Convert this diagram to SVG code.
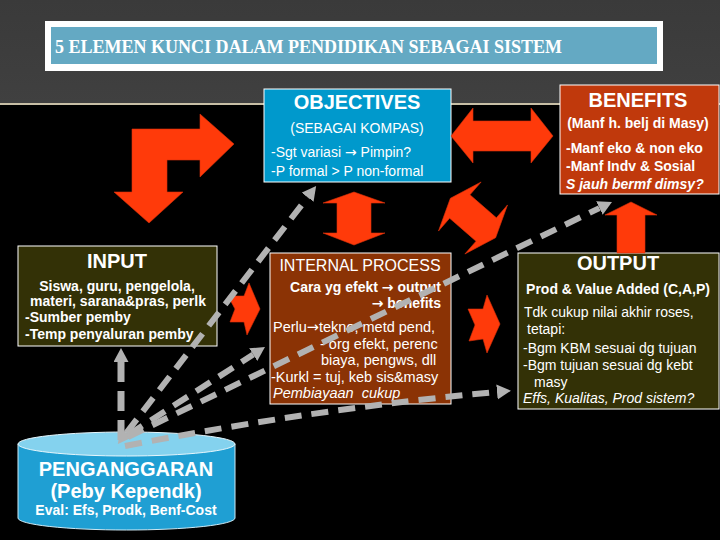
<svg xmlns="http://www.w3.org/2000/svg" width="720" height="540" viewBox="0 0 720 540">
  <style>
    text { font-family: "Liberation Sans", Arial, sans-serif; fill: #ffffff; }
    .title { font-family: "Liberation Serif", "Times New Roman", serif; font-weight: bold; font-size: 18px; }
    .hd { font-weight: bold; font-size: 20px; text-anchor: middle; }
    .hr { font-size: 16px; text-anchor: middle; }
    .b14 { font-weight: bold; font-size: 14px; }
    .r14 { font-size: 14px; }
    .r145 { font-size: 14.5px; }
    .mid { text-anchor: middle; }
    .end { text-anchor: end; }
    .it { font-style: italic; }
    .ar { font-family: "DejaVu Sans", sans-serif; }
    .box { stroke: #ffffff; stroke-width: 1; }
    .red { fill: #ff3a0a; stroke: #d8300a; stroke-width: 0.6; }
    .dash { fill: none; stroke: #b2b2b2; stroke-width: 6; stroke-dasharray: 17 10; }
    .dashv { fill: none; stroke: #b2b2b2; stroke-width: 7; stroke-dasharray: 20 9; }
  </style>
  <defs>
    <marker id="ah" markerUnits="userSpaceOnUse" markerWidth="16" markerHeight="16" refX="0" refY="7.5" orient="auto-start-reverse">
      <path d="M0,0 L14,7.5 L0,15 z" fill="#b2b2b2"/>
    </marker>
    <linearGradient id="topg" x1="0" y1="0" x2="0" y2="1">
      <stop offset="0" stop-color="#3a3a3a"/>
      <stop offset="1" stop-color="#404040"/>
    </linearGradient>
  </defs>

  <!-- background -->
  <rect x="0" y="0" width="720" height="540" fill="#000000"/>
  <rect x="0" y="0" width="720" height="104" fill="url(#topg)"/>
  <rect x="0" y="103" width="720" height="2" fill="#c8bfa6"/>

  <!-- title -->
  <g id="title">
    <rect x="45" y="21" width="618" height="50" fill="#ffffff"/>
    <rect x="51" y="27" width="606" height="37" fill="#64a9c3"/>
    <text class="title" x="55" y="53">5 ELEMEN KUNCI DALAM PENDIDIKAN SEBAGAI SISTEM</text>
  </g>

  <!-- nodes -->
  <g id="objectives">
    <rect class="box" x="264" y="89" width="187" height="93" fill="#0099cc"/>
    <text class="hd" x="357" y="109">OBJECTIVES</text>
    <text class="r14 mid" x="357" y="133">(SEBAGAI KOMPAS)</text>
    <text class="r14" x="271" y="157">-Sgt variasi <tspan class="ar">→</tspan> Pimpin?</text>
    <text class="r14" x="271" y="176">-P formal &gt; P non-formal</text>
  </g>

  <g id="benefits">
    <rect class="box" x="560" y="85" width="159" height="109" fill="#c0390c"/>
    <text class="hd" x="638" y="107">BENEFITS</text>
    <text class="b14 mid" x="638" y="128">(Manf h. belj di Masy)</text>
    <text class="b14" x="566" y="153">-Manf eko &amp; non eko</text>
    <text class="b14" x="566" y="171">-Manf Indv &amp; Sosial</text>
    <text class="b14 it" x="566" y="189">S jauh bermf dimsy?</text>
  </g>

  <g id="input">
    <rect class="box" x="18" y="246" width="199" height="100" fill="#333106"/>
    <text class="hd" x="117" y="268">INPUT</text>
    <text class="b14 mid" x="117" y="291">Siswa, guru, pengelola,</text>
    <text class="b14 mid" x="118" y="306">materi, sarana&amp;pras, perlk</text>
    <text class="b14" x="25" y="322">-Sumber pemby</text>
    <text class="b14" x="25" y="339">-Temp penyaluran pemby</text>
  </g>

  <g id="internal-process">
    <rect class="box" x="270" y="253" width="181" height="151" fill="#8b3305"/>
    <text class="hr" x="360" y="271">INTERNAL PROCESS</text>
    <text class="b14 end" x="441" y="292">Cara yg efekt <tspan class="ar">→</tspan> output</text>
    <text class="b14 end" x="441" y="308"><tspan class="ar">→</tspan> benefits</text>
    <text class="r145" x="273" y="332">Perlu<tspan class="ar">→</tspan>tekno, metd pend,</text>
    <text class="r145" x="320" y="349">- org efekt, perenc</text>
    <text class="r145" x="321" y="365">biaya, pengws, dll</text>
    <text class="r145" x="271" y="382">-Kurkl = tuj, keb sis&amp;masy</text>
    <text class="r145 it" x="273" y="398" xml:space="preserve">Pembiayaan  cukup</text>
  </g>

  <g id="output">
    <rect class="box" x="518" y="253" width="201" height="156" fill="#333106"/>
    <text class="hd" x="618" y="270">OUTPUT</text>
    <text class="b14 mid" x="618" y="294">Prod &amp; Value Added (C,A,P)</text>
    <text class="r14" x="524" y="317">Tdk cukup nilai akhir roses,</text>
    <text class="r14" x="527" y="334">tetapi:</text>
    <text class="r14" x="523" y="353">-Bgm KBM sesuai dg tujuan</text>
    <text class="r14" x="523" y="370">-Bgm tujuan sesuai dg kebt</text>
    <text class="r14" x="534" y="387">masy</text>
    <text class="r14 it" x="523" y="403">Effs, Kualitas, Prod sistem?</text>
  </g>

  <g id="penganggaran">
    <path d="M18,444 L18,518 A108.5,12 0 0 0 235,518 L235,444 z" fill="#1f9fd3" stroke="#cdeaf6" stroke-width="1"/>
    <ellipse cx="126.5" cy="444" rx="108.5" ry="12" fill="#84d2ee" stroke="#e6f6fc" stroke-width="1"/>
    <text class="hd" x="126" y="476">PENGANGGARAN</text>
    <text class="hd" x="126" y="498">(Peby Kependk)</text>
    <text class="b14 mid" x="126" y="515">Eval: Efs, Prodk, Benf-Cost</text>
  </g>

  <!-- connectors -->
  <g id="connectors">
    <g id="block-arrows">
      <polygon class="red" points="132,129 200,129 200,114 234,144 200,177 200,160 167,160 167,192 183,192 149,223 114,192 132,192"/>
      <polygon class="red" points="354,192 385,203 371,203 371,233 385,233 354,245 323,233 337,233 337,203 323,203"/>
      <polygon class="red" points="451,136 473,108 473,121 531,121 531,108 553,136 531,163 531,151 473,151 473,163"/>
      <polygon class="red" transform="translate(473,218) rotate(-49)" points="0,-30 32.5,-17.5 15.5,-17.5 15.5,17.5 32.5,17.5 0,30 -32.5,17.5 -15.5,17.5 -15.5,-17.5 -32.5,-17.5"/>
      <polygon class="red" points="228,296 244,296 249,283 260,309 247,335 244,322 230,322 235,309"/>
      <polygon class="red" points="468,309 483,309 487,295 500,324 487,353 483,339 469,341 475,325"/>
      <polygon class="red" points="631,202 657,215 645,215 645,253 617,253 617,215 605,215"/>
    </g>
    <g id="dashed-lines">
      <line class="dashv" x1="121" y1="440" x2="121" y2="362" marker-end="url(#ah)"/>
      <line class="dash" x1="126.4" y1="432.8" x2="307.6" y2="197.2" marker-start="url(#ah)" marker-end="url(#ah)"/>
      <line class="dash" x1="128" y1="435" x2="253.2" y2="354.6" marker-end="url(#ah)"/>
      <line class="dash" x1="128" y1="437" x2="599.4" y2="208.1" marker-end="url(#ah)"/>
      <path class="dash" d="M125,446 Q320,408 497,392" marker-end="url(#ah)"/>
    </g>
  </g>
</svg>
